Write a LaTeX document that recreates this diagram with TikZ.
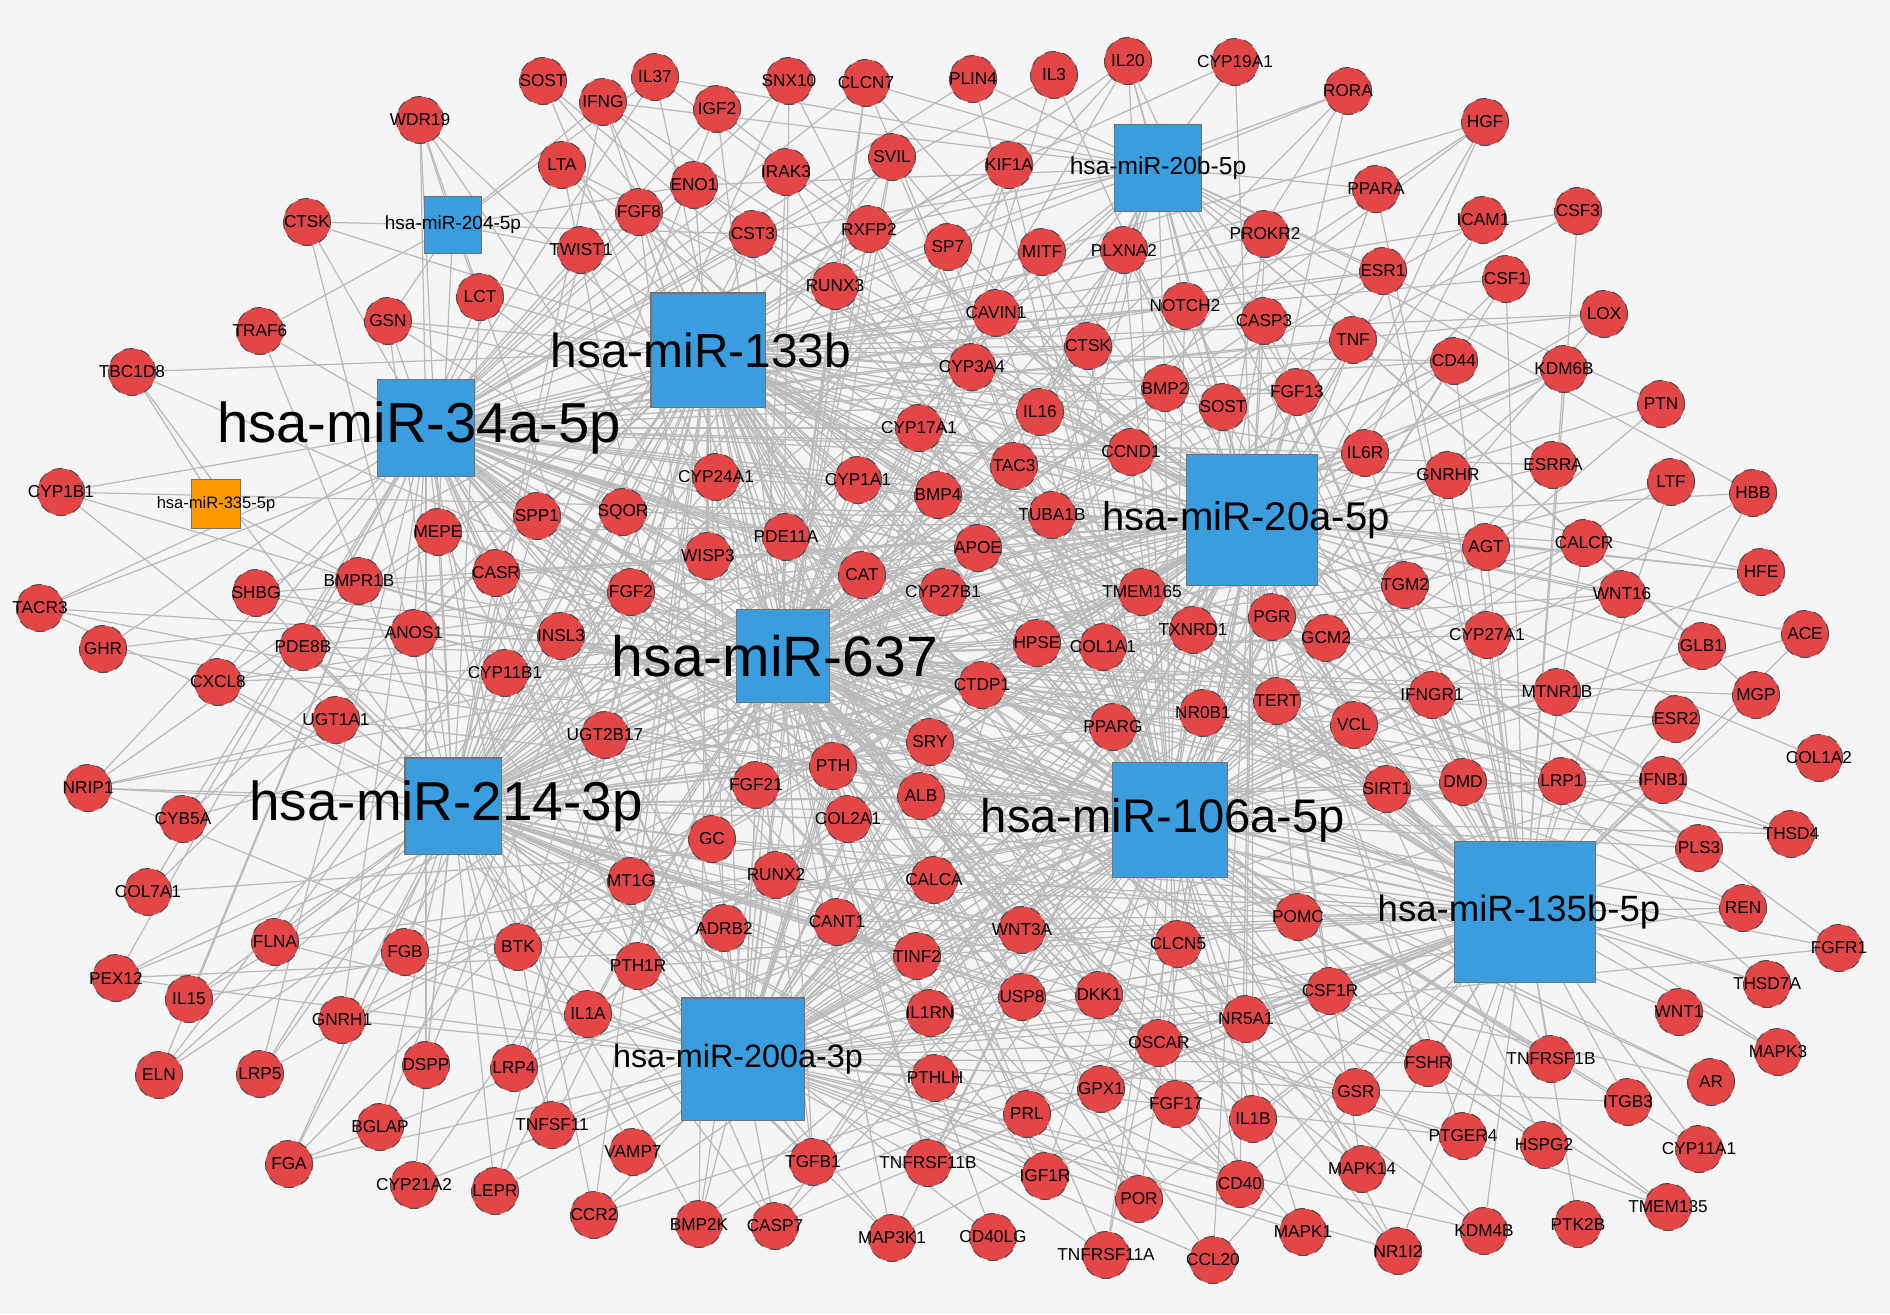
\documentclass[tikz,border=0pt]{standalone}
\usepackage{fontspec}
\setmainfont{Liberation Sans}
\usetikzlibrary{positioning}
\definecolor{genered}{RGB}{226,70,70}
\definecolor{mirblue}{RGB}{58,158,222}
\definecolor{mirorange}{RGB}{255,153,0}
\definecolor{bggray}{RGB}{245,245,245}
\definecolor{edgegray}{RGB}{186,186,186}
\pgfdeclarelayer{edges}
\pgfsetlayers{edges,main}
\newcount\hitcount

% x/y/name/label of the target genes
\def\genes{543/81/sosta/SOST, 655/77/il37/IL37, 603/102/ifng/IFNG, 717/109/igf2/IGF2,
  789/81/snx10/SNX10, 866/83/clcn7/CLCN7, 973/79/plin4/PLIN4, 1054/75/il3/IL3,
  1128/61/il20/IL20, 1235/62/cyp19a1/CYP19A1, 1348/91/rora/RORA, 1485/122/hgf/HGF,
  420/120/wdr19/WDR19, 562/165/lta/LTA, 694/185/eno1/ENO1, 786/172/irak3/IRAK3,
  892/157/svil/SVIL, 1009/165/kif1a/KIF1A, 1376/189/ppara/PPARA, 1483/220/icam1/ICAM1,
  1578/211/csf3/CSF3, 307/222/ctska/CTSK, 581/250/twist1/TWIST1, 639/212/fgf8/FGF8,
  753/234/cst3/CST3, 869/229/rxfp2/RXFP2, 948/247/sp7/SP7, 1042/252/mitf/MITF,
  1124/250/plxna2/PLXNA2, 1265/234/prokr2/PROKR2, 1383/271/esr1/ESR1, 1506/279/csf1/CSF1,
  480/297/lct/LCT, 388/321/gsn/GSN, 260/331/traf6/TRAF6, 835/286/runx3/RUNX3,
  996/313/cavin1/CAVIN1, 1185/306/notch2/NOTCH2, 1264/321/casp3/CASP3, 1353/340/tnf/TNF,
  1604/314/lox/LOX, 132/372/tbc1d8/TBC1D8, 972/367/cyp3a4/CYP3A4, 1088/346/ctskb/CTSK,
  1454/361/cd44/CD44, 1564/369/kdm6b/KDM6B, 1165/388/bmp2/BMP2, 1223/407/sostb/SOST,
  1297/392/fgf13/FGF13, 1661/404/ptn/PTN, 1040/412/il16/IL16, 919/428/cyp17a1/CYP17A1,
  61/492/cyp1b1/CYP1B1, 716/477/cyp24a1/CYP24A1, 858/480/cyp1a1/CYP1A1, 1014/466/tac3/TAC3,
  1131/452/ccnd1/CCND1, 1365/453/il6r/IL6R, 1448/475/gnrhr/GNRHR, 1553/465/esrra/ESRRA,
  1671/482/ltf/LTF, 1753/493/hbb/HBB, 438/532/mepe/MEPE, 537/516/spp1/SPP1,
  623/512/sqor/SQOR, 786/537/pde11a/PDE11A, 938/495/bmp4/BMP4, 1052/515/tuba1b/TUBA1B,
  978/548/apoe/APOE, 708/556/wisp3/WISP3, 862/575/cat/CAT, 1486/547/agt/AGT,
  1584/543/calcr/CALCR, 1761/572/hfe/HFE, 256/593/shbg/SHBG, 359/581/bmpr1b/BMPR1B,
  496/573/casr/CASR, 631/592/fgf2/FGF2, 943/592/cyp27b1/CYP27B1, 1142/592/tmem165/TMEM165,
  1405/585/tgm2/TGM2, 1622/594/wnt16/WNT16, 40/608/tacr3/TACR3, 103/649/ghr/GHR,
  303/647/pde8b/PDE8B, 414/633/anos1/ANOS1, 561/636/insl3/INSL3, 218/682/cxcl8/CXCL8,
  505/673/cyp11b1/CYP11B1, 1037/643/hpse/HPSE, 1103/647/col1a1/COL1A1, 1193/630/txnrd1/TXNRD1,
  1272/617/pgr/PGR, 1326/638/gcm2/GCM2, 1487/635/cyp27a1/CYP27A1, 1702/646/glb1/GLB1,
  1805/634/ace/ACE, 336/720/ugt1a1/UGT1A1, 605/735/ugt2b17/UGT2B17, 982/685/ctdp1/CTDP1,
  1203/713/nr0b1/NR0B1, 1277/701/tert/TERT, 1432/695/ifngr1/IFNGR1, 1557/692/mtnr1b/MTNR1B,
  1756/695/mgp/MGP, 1676/719/esr2/ESR2, 1819/758/col1a2/COL1A2, 930/742/sry/SRY,
  1113/727/pparg/PPARG, 1354/725/vcl/VCL, 88/788/nrip1/NRIP1, 183/819/cyb5a/CYB5A,
  756/785/fgf21/FGF21, 833/766/pth/PTH, 921/796/alb/ALB, 1387/789/sirt1/SIRT1,
  1463/782/dmd/DMD, 1562/781/lrp1/LRP1, 1663/780/ifnb1/IFNB1, 1791/834/thsd4/THSD4,
  848/819/col2a1/COL2A1, 712/839/gc/GC, 1699/848/pls3/PLS3, 148/892/col7a1/COL7A1,
  776/875/runx2/RUNX2, 631/881/mt1g/MT1G, 934/880/calca/CALCA, 1743/908/ren/REN,
  1298/917/pomc/POMC, 1839/948/fgfr1/FGFR1, 724/928/adrb2/ADRB2, 837/922/cant1/CANT1,
  1022/930/wnt3a/WNT3A, 1178/944/clcn5/CLCN5, 275/942/flna/FLNA, 405/952/fgb/FGB,
  518/947/btk/BTK, 917/956/tinf2/TINF2, 638/966/pth1r/PTH1R, 116/978/pex12/PEX12,
  189/999/il15/IL15, 588/1014/il1a/IL1A, 930/1013/il1rn/IL1RN, 1022/997/usp8/USP8,
  1099/995/dkk1/DKK1, 1330/991/csf1r/CSF1R, 1246/1019/nr5a1/NR5A1, 1767/984/thsd7a/THSD7A,
  1679/1012/wnt1/WNT1, 342/1020/gnrh1/GNRH1, 1159/1043/oscar/OSCAR, 1428/1063/fshr/FSHR,
  1551/1059/tnfrsf1b/TNFRSF1B, 1778/1052/mapk3/MAPK3, 1711/1082/ar/AR, 1628/1102/itgb3/ITGB3,
  159/1075/eln/ELN, 260/1074/lrp5/LRP5, 426/1065/dspp/DSPP, 514/1068/lrp4/LRP4,
  935/1078/pthlh/PTHLH, 1101/1089/gpx1/GPX1, 1176/1104/fgf17/FGF17, 1356/1092/gsr/GSR,
  1463/1136/ptger4/PTGER4, 1544/1145/hspg2/HSPG2, 1699/1149/cyp11a1/CYP11A1, 1253/1119/il1b/IL1B,
  1027/1114/prl/PRL, 380/1127/bglap/BGLAP, 552/1125/tnfsf11/TNFSF11, 633/1152/vamp7/VAMP7,
  813/1162/tgfb1/TGFB1, 289/1164/fga/FGA, 414/1185/cyp21a2/CYP21A2, 495/1191/lepr/LEPR,
  928/1163/tnfrsf11b/TNFRSF11B, 1045/1176/igf1r/IGF1R, 1139/1199/por/POR, 1240/1184/cd40/CD40,
  1362/1169/mapk14/MAPK14, 1668/1207/tmem135/TMEM135, 594/1215/ccr2/CCR2, 699/1224/bmp2k/BMP2K,
  775/1226/casp7/CASP7, 892/1238/map3k1/MAP3K1, 993/1237/cd40lg/CD40LG, 1303/1232/mapk1/MAPK1,
  1484/1231/kdm4b/KDM4B, 1578/1224/ptk2b/PTK2B, 1398/1251/nr1i2/NR1I2,
  1106/1255/tnfrsf11a/TNFRSF11A, 1213/1260/ccl20/CCL20}

% x/y/name/weight/reach of the miRNAs
\def\hubs{426/428/m34a/0.95/1800, 708/350/m133b/0.95/1800, 783/656/m637/1.0/1900,
  453/806/m214/0.95/1800, 1252/520/m20a/0.95/1800, 1170/820/m106a/0.95/1800,
  1525/912/m135b/0.95/1700, 743/1059/m200a/0.85/1500, 1158/168/m20b/0.7/900,
  453/225/m204/0.8/380, 216/504/m335/0.8/320}

\begin{document}
\begin{tikzpicture}
  [x=0.01cm, y=-0.01cm,
    gene/.style={circle, draw=black!70, densely dashed, line width=0.3pt, fill=genered,
      minimum size=0.47cm, inner sep=0pt,
      label={[font=\fontsize{4.9}{5}\selectfont]center:#1}},
    hub/.style={rectangle, draw=black!55, line width=0.3pt, fill=mirblue,
      minimum size=#1, inner sep=0pt},
    link/.style={draw=edgegray, line width=0.35pt}]

  \begin{pgfonlayer}{edges}
    \fill[bggray] (0,0) rectangle (1890,1314);
  \end{pgfonlayer}
  \useasboundingbox (0,0) rectangle (1890,1314);

  \node[hub=0.97cm, label={[font=\fontsize{16}{16}\selectfont, xshift=-0.07cm]center:hsa-miR-34a-5p}] (m34a) at (426,428) {};
  \node[hub=1.14cm, label={[font=\fontsize{13.6}{14}\selectfont, xshift=-0.07cm]center:hsa-miR-133b}] (m133b) at (708,350) {};
  \node[hub=0.93cm, label={[font=\fontsize{16.2}{16}\selectfont, xshift=-0.08cm]center:hsa-miR-637}] (m637) at (783,656) {};
  \node[hub=0.96cm, label={[font=\fontsize{15.6}{16}\selectfont, xshift=-0.07cm]center:hsa-miR-214-3p}] (m214) at (453,806) {};
  \node[hub=1.31cm, label={[font=\fontsize{11.4}{12}\selectfont, xshift=-0.06cm]center:hsa-miR-20a-5p}] (m20a) at (1252,520) {};
  \node[hub=1.15cm, label={[font=\fontsize{13.4}{14}\selectfont, xshift=-0.07cm]center:hsa-miR-106a-5p}] (m106a) at (1170,820) {};
  \node[hub=1.41cm, label={[font=\fontsize{10.4}{11}\selectfont, xshift=-0.06cm]center:hsa-miR-135b-5p}] (m135b) at (1525,912) {};
  \node[hub=1.22cm, label={[font=\fontsize{9.2}{10}\selectfont, xshift=-0.05cm]center:hsa-miR-200a-3p}] (m200a) at (743,1059) {};
  \node[hub=0.87cm, label={[font=\fontsize{7}{8}\selectfont]center:hsa-miR-20b-5p}] (m20b) at (1158,168) {};
  \node[hub=0.57cm, label={[font=\fontsize{5.4}{6}\selectfont]center:hsa-miR-204-5p}] (m204) at (453,225) {};
  \node[hub=0.49cm, fill=mirorange, label={[font=\fontsize{4.7}{5}\selectfont]center:hsa-miR-335-5p}] (m335) at (216,504) {};

  \pgfmathsetseed{4}
  \foreach \gx/\gy/\gn/\gl in \genes {
    \node[gene=\gl] (\gn) at (\gx,\gy) {};
    \global\hitcount=0
    \gdef\bestd{9999}
    \begin{pgfonlayer}{edges}
      \foreach \hx/\hy/\hn/\hw/\hr in \hubs {
        \pgfmathsetmacro\dd{veclen(\gx-\hx,\gy-\hy)}
        \pgfmathtruncatemacro\closer{\dd<\bestd}
        \ifnum\closer=1 \xdef\bestd{\dd}\xdef\besth{\hn}\fi
        \pgfmathtruncatemacro\hit{rnd < \hw*max(0,1-\dd/\hr)}
        \ifnum\hit=1 \draw[link] (\gn) -- (\hn); \global\advance\hitcount by 1 \fi
      }
      % every gene keeps at least its nearest miRNA
      \ifnum\hitcount=0 \draw[link] (\gn) -- (\besth); \fi
    \end{pgfonlayer}
  }
\end{tikzpicture}
\end{document}
